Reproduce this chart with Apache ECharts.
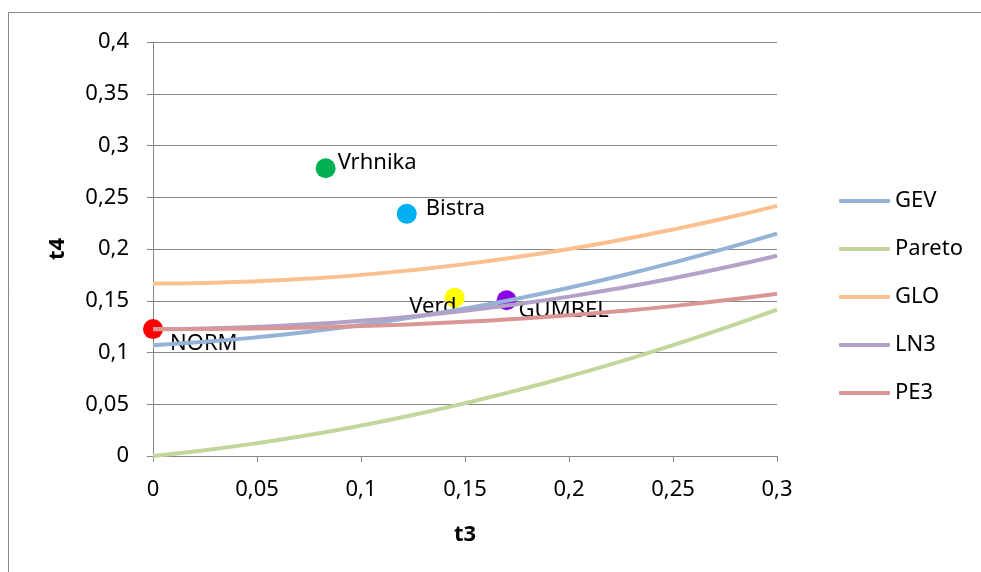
<!DOCTYPE html>
<html>
<head>
<meta charset="utf-8">
<script src="https://cdn.jsdelivr.net/npm/echarts@6/dist/echarts.min.js"></script>
<style>
  html, body { margin: 0; padding: 0; background: #fff; }
  #chart { width: 981px; height: 572px; }
</style>
</head>
<body>
<div id="chart"></div>
<script>
// L-moment ratio diagram, t3 on x, t4 on y
const t3 = [0, 0.025, 0.05, 0.075, 0.1, 0.125, 0.15, 0.175, 0.2, 0.225, 0.25, 0.275, 0.3];
const gev = [0.1070, 0.1103, 0.1147, 0.1201, 0.1265, 0.1340, 0.1425, 0.1520, 0.1626, 0.1742, 0.1868, 0.2003, 0.2148];
const pareto = [0, 0.0056, 0.0124, 0.0203, 0.0294, 0.0396, 0.0510, 0.0634, 0.0769, 0.0915, 0.1071, 0.1238, 0.1415];
const glo = [0.1667, 0.1672, 0.1688, 0.1714, 0.1750, 0.1797, 0.1854, 0.1922, 0.2000, 0.2089, 0.2188, 0.2297, 0.2417];
const ln3 = [0.1228, 0.1233, 0.1248, 0.1272, 0.1306, 0.1350, 0.1403, 0.1467, 0.1540, 0.1624, 0.1717, 0.1821, 0.1935];
const pe3 = [0.1224, 0.1226, 0.1232, 0.1241, 0.1255, 0.1273, 0.1297, 0.1325, 0.1359, 0.1400, 0.1448, 0.1504, 0.1568];

const pointNames = ["NORM", "Vrhnika", "Bistra", "Verd", "GUMBEL"];
const pointT3 = [0, 0.083, 0.122, 0.145, 0.170];
const pointT4 = [0.1226, 0.278, 0.234, 0.153, 0.1505];

const FONT = "Noto Sans";
const FS = 22;
const pointColors = ["#ff0000", "#00b050", "#00b0f0", "#ffff00", "#8a00e6"];
const labelPos = [[27, 25, "left"], [22, 4, "left"], [29, 5, "left"], [12, 19, "right"], [22, 21, "left"]];

const chart = echarts.init(document.getElementById("chart"));

const pointSeries = pointNames.map((name, i) => ({
  name: name,
  type: "scatter",
  symbolSize: 20,
  z: 1,
  data: [[pointT3[i], pointT4[i]]],
  itemStyle: { color: pointColors[i], opacity: 1 },
  label: {
    show: true,
    formatter: name,
    position: [labelPos[i][0], labelPos[i][1]],
    align: labelPos[i][2],
    verticalAlign: "middle",
    color: "#000",
    fontSize: FS,
    fontFamily: FONT,
  },
}));

function curve(name, vals, color) {
  return {
    name: name,
    type: "line",
    smooth: true,
    symbol: "none",
    z: 3,
    data: t3.map((x, i) => [x, vals[i]]),
    lineStyle: { color: color, width: 4 },
    itemStyle: { color: color },
  };
}

const comma = (v) => String(v).replace(".", ",");

const option = {
  animation: false,
  backgroundColor: "#fff",
  graphic: [
    {
      type: "rect",
      shape: { x: 8.5, y: 12.5, width: 1000, height: 600 },
      style: { fill: "none", stroke: "#868686", lineWidth: 1 },
      silent: true,
    },
  ],
  grid: { left: 153, right: 204, top: 42, bottom: 116 },
  legend: {
    data: ["GEV", "Pareto", "GLO", "LN3", "PE3"],
    orient: "vertical",
    left: 834,
    top: 183,
    icon: "roundRect",
    itemWidth: 51,
    itemHeight: 4,
    itemGap: 22,
    textStyle: { color: "#000", fontSize: FS, fontFamily: FONT, lineHeight: 26 },
  },
  xAxis: {
    type: "value",
    min: 0,
    max: 0.3,
    interval: 0.05,
    name: "t3",
    nameLocation: "middle",
    nameGap: 68,
    nameTextStyle: { color: "#000", fontSize: FS, fontWeight: "bold", fontFamily: FONT },
    axisLine: { show: true, lineStyle: { color: "#868686", width: 1 } },
    axisTick: { show: true, length: 6, lineStyle: { color: "#868686" } },
    splitLine: { show: false },
    axisLabel: { color: "#000", fontSize: FS, fontFamily: FONT, margin: 23, formatter: comma },
  },
  yAxis: {
    type: "value",
    min: 0,
    max: 0.4,
    interval: 0.05,
    name: "t4",
    nameLocation: "middle",
    nameGap: 84,
    nameRotate: 90,
    nameTextStyle: { color: "#000", fontSize: FS, fontWeight: "bold", fontFamily: FONT },
    axisLine: { show: true, lineStyle: { color: "#868686", width: 1 } },
    axisTick: { show: true, length: 6, lineStyle: { color: "#868686" } },
    splitLine: { show: true, lineStyle: { color: "#868686", width: 1 } },
    axisLabel: { color: "#000", fontSize: FS, fontFamily: FONT, margin: 24, formatter: comma },
  },
  series: pointSeries.concat([
    curve("GEV", gev, "#95b3d7"),
    curve("Pareto", pareto, "#c3d69b"),
    curve("GLO", glo, "#fac090"),
    curve("LN3", ln3, "#b3a2c7"),
    curve("PE3", pe3, "#d99694"),
  ]),
};

chart.setOption(option);
</script>
</body>
</html>
